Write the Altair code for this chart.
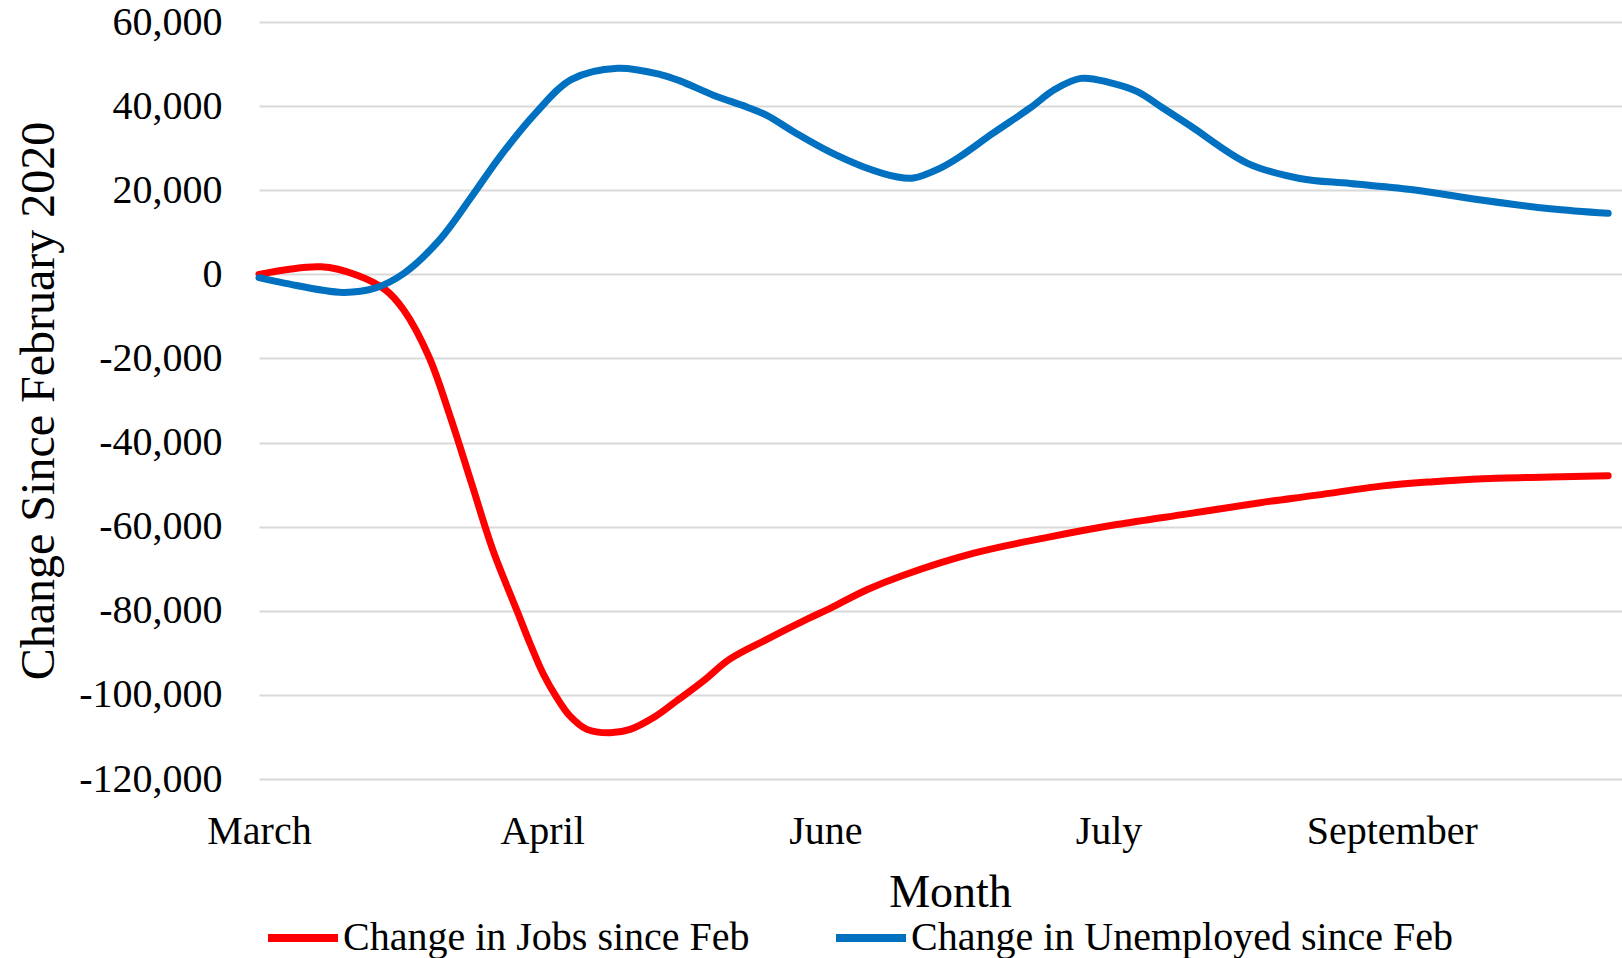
import altair as alt
import pandas as pd

# ---- data (x = days since the first data point) ----
tick_days = [0, 45, 90, 135, 180]
tick_labels = ["March", "April", "June", "July", "September"]

series_names = ["Change in Jobs since Feb", "Change in Unemployed since Feb"]
series_colors = ["#FF0000", "#0070C0"]

jobs_day = [0, 9.9, 15.6, 20.1, 23.0, 27.0, 30.4, 33.8, 37.2, 41.0, 43.1, 45.2,
            47.3, 49.4, 52.1, 55.8, 59.0, 62.7, 66.4, 70.6, 74.8, 80.7, 87.1,
            90.9, 96.6, 102.3, 113.6, 125.1, 136.3, 147.8, 159.1, 168.1, 178.6,
            186.6, 194.5, 205.2, 214.4]
jobs_val = [0, 1800, -200, -3700, -8500, -19600, -33900, -49800, -65700, -80000,
            -87900, -95100, -100600, -105000, -108200, -109000, -108200, -105400,
            -101400, -96700, -91500, -86800, -82000, -79300, -75000, -71600,
            -66300, -62600, -59500, -56900, -54300, -52500, -50300, -49300,
            -48600, -48200, -47900]

unemp_day = [0, 4.2, 13.3, 18.4, 23.0, 28.7, 33.8, 38.3, 44.0, 49.6, 57.0, 63.8,
             66.9, 72.2, 77.5, 80.7, 85.4, 90.7, 96.0, 101.3, 104.0, 108.2, 111.2,
             116.6, 122.5, 126.5, 130.6, 135.2, 139.5, 143.7, 148.1, 157.1, 165.4,
             173.4, 184.0, 194.5, 205.2, 214.4]
unemp_val = [-800, -2150, -4300, -3300, 200, 8200, 18500, 28000, 38400, 46300,
             49000, 47500, 46000, 42600, 39800, 37800, 33500, 29100, 25600, 23200,
             22900, 25200, 27800, 33500, 39500, 44000, 46600, 45600, 43500, 39500,
             35200, 26400, 22800, 21600, 20000, 17600, 15600, 14500]

y_ticks = [-120000, -100000, -80000, -60000, -40000, -20000, 0, 20000, 40000, 60000]

rows = []
for d, v in zip(jobs_day, jobs_val):
    rows.append({"day": d, "value": v, "series": series_names[0], "k": 0})
for d, v in zip(unemp_day, unemp_val):
    rows.append({"day": d, "value": v, "series": series_names[1], "k": 1})
df = pd.DataFrame(rows)

x_label_expr = " : ".join(
    f"datum.value == {d} ? '{l}'" for d, l in zip(tick_days, tick_labels)
) + " : ''"
y_label_expr = "(datum.value < 0 ? '-' : '') + format(abs(datum.value), ',')"

FONT = "Liberation Serif"
PLOT_W, PLOT_H = 1363, 757

chart = (
    alt.Chart(df)
    .mark_line(interpolate="catmull-rom", strokeWidth=7, strokeCap="round", strokeJoin="round")
    .encode(
        x=alt.X(
            "day:Q",
            scale=alt.Scale(domain=[0, 216.6], nice=False, zero=False),
            axis=alt.Axis(
                values=tick_days, labelExpr=x_label_expr, title="Month",
                grid=False, domain=False, ticks=False, tickSize=0,
                labelFont=FONT, labelFontSize=40, labelColor="#000000",
                labelBaseline="alphabetic", labelPadding=64,
                labelFlush=False, labelOverlap=False,
                titleFont=FONT, titleFontSize=46, titleFontWeight="normal",
                titleColor="#000000", titleX=691, titleY=127,
                titleBaseline="alphabetic",
            ),
        ),
        y=alt.Y(
            "value:Q",
            scale=alt.Scale(domain=[-120000, 60000], nice=False),
            axis=alt.Axis(
                values=y_ticks, labelExpr=y_label_expr,
                title="Change Since February 2020",
                grid=True, gridColor="#D9D9D9", gridWidth=2,
                domain=False, ticks=False, tickSize=0,
                labelFont=FONT, labelFontSize=40, labelColor="#000000",
                labelPadding=37, labelBaseline="middle",
                titleFont=FONT, titleFontSize=48, titleFontWeight="normal",
                titleColor="#000000", titleX=-220, titleBaseline="middle",
            ),
        ),
        color=alt.Color(
            "series:N",
            scale=alt.Scale(domain=series_names, range=series_colors),
            legend=alt.Legend(
                orient="none", legendX=5, legendY=877, direction="horizontal",
                title=None, symbolType="stroke", symbolSize=4900,
                symbolStrokeWidth=8, labelFont=FONT, labelFontSize=40,
                labelColor="#000000", labelOffset=1, columnPadding=70,
                labelLimit=0, padding=0,
            ),
        ),
        order=alt.Order("day:Q"),
        detail="k:N",
    )
    .properties(
        width=PLOT_W, height=PLOT_H,
        padding={"left": 259, "top": 22, "right": 0, "bottom": 179},
        autosize=alt.AutoSizeParams(type="none"),
    )
    .configure_view(stroke=None)
)

chart.save("out.html", embed_options={"renderer": "svg", "actions": False})
